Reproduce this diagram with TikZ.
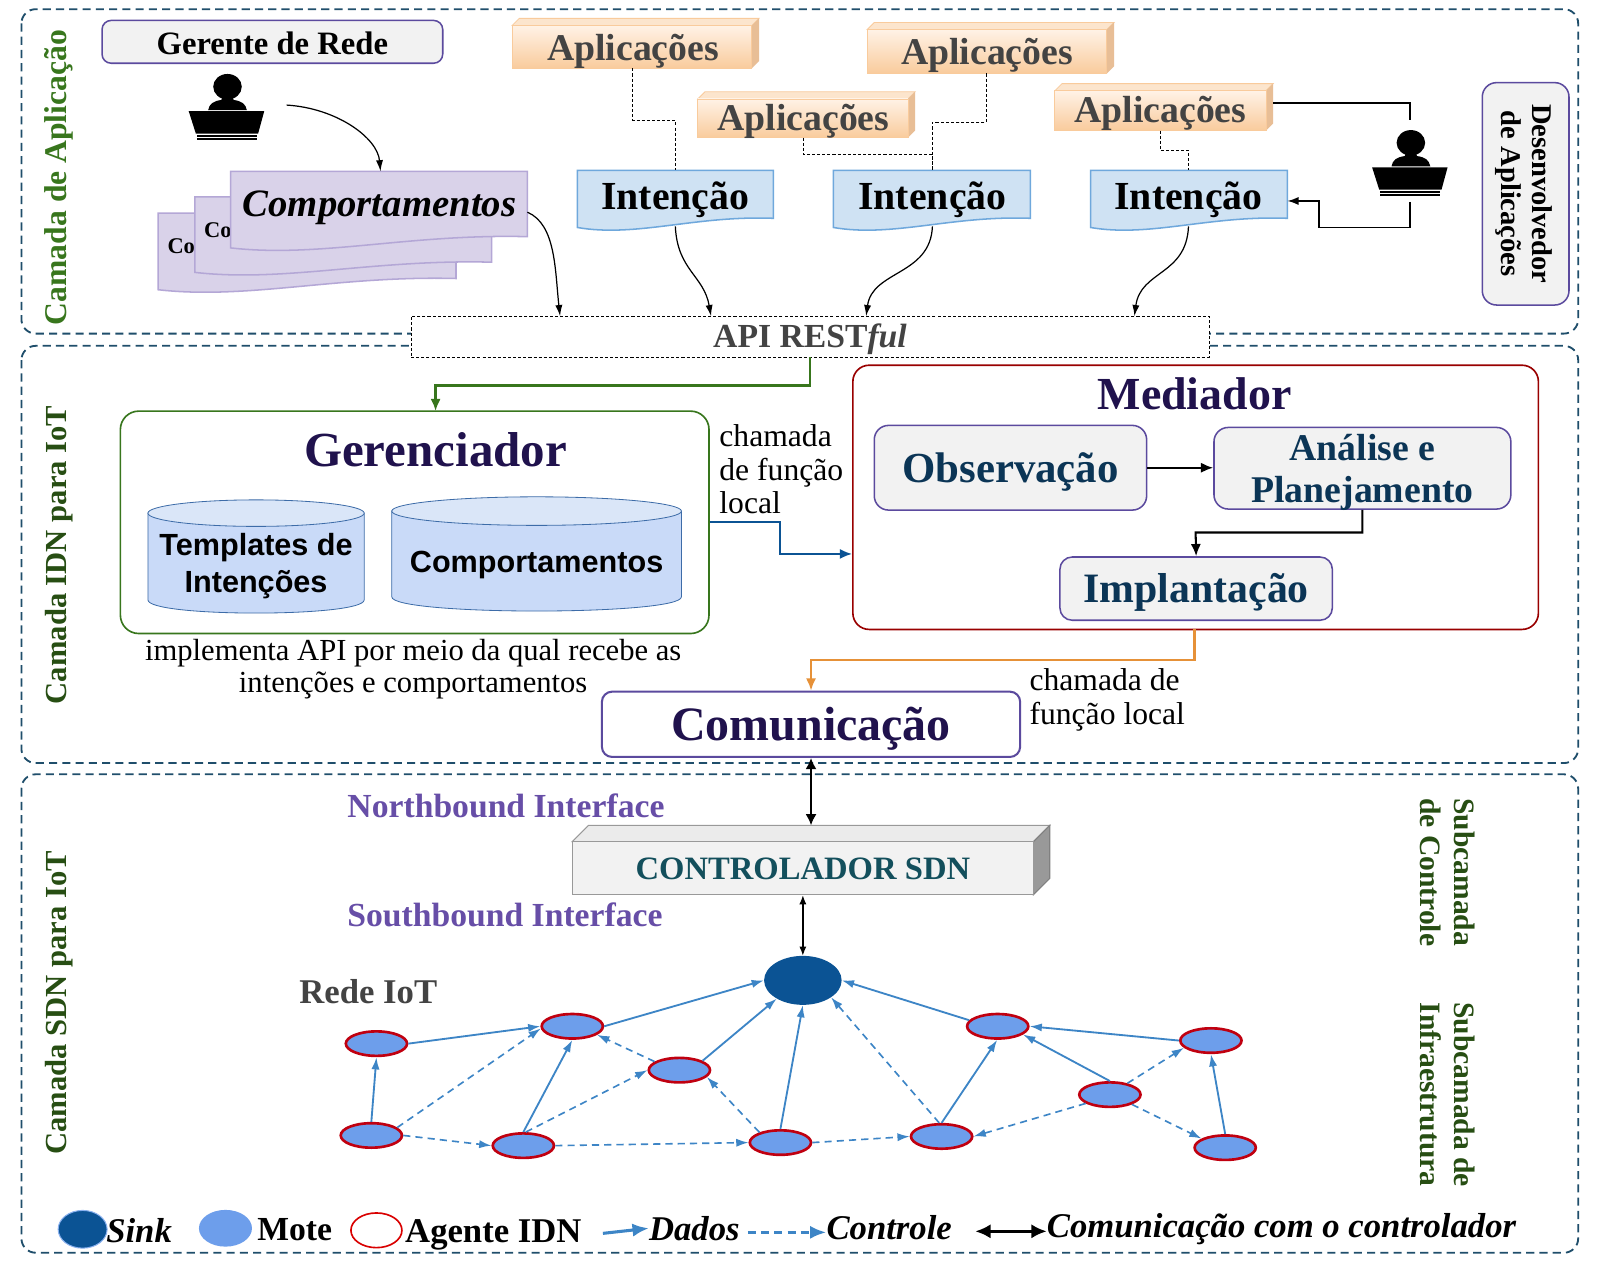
\documentclass[tikz,border=0pt]{standalone}
\usepackage{fontspec}
\usetikzlibrary{shapes.geometric,arrows.meta,calc}
\setmainfont{Liberation Serif}
\newfontfamily\sansf{Liberation Sans}
\newcommand{\fz}[1]{\fontsize{#1pt}{#1pt}\selectfont}
\newcommand{\fzl}[2]{\fontsize{#1pt}{#2pt}\selectfont}
\definecolor{framec}{HTML}{1F4E6B}
\definecolor{purp}{HTML}{5B4A9E}
\definecolor{navy}{HTML}{20124D}
\definecolor{deep}{HTML}{0B3556}
\definecolor{gr1}{HTML}{38761D}
\definecolor{gr2}{HTML}{274E13}
\definecolor{netb}{HTML}{3D85C6}
\definecolor{sinkc}{HTML}{0B5394}
\definecolor{motec}{HTML}{6D9EEB}
\definecolor{agentc}{HTML}{C00010}
\definecolor{grayt}{HTML}{434343}
\definecolor{tealt}{HTML}{134F5C}
\definecolor{orangel}{HTML}{E69138}
\definecolor{intf}{HTML}{674EA7}
\tikzset{
  framebox/.style={draw=framec,line width=1.8pt,dash pattern=on 8pt off 5pt,rounded corners=14pt},
  greybox/.style={draw=purp,fill=black!5,line width=1.5pt,rounded corners=9pt},
  person/.pic={
    \fill[black] (0,0) ellipse[x radius=14pt,y radius=12.5pt];
    \fill[black] (-5,10) -- (5,10) -- (6,13) .. controls (14,14) and (18,17) .. (19,23) -- (-19,23) .. controls (-18,17) and (-14,14) .. (-6,13) -- cycle;
    \fill[black] (-38,24) -- (36,24) -- (30,46) -- (-31,46) -- cycle;
    \fill[black] (-30,47.5) rectangle (29,49);
    \fill[black] (-30,50.5) rectangle (29,52);
  },
  arrowthin/.style={black,line width=1.2pt,-{Latex[length=11pt,width=7pt]}},
  arrowbig/.style={line width=2.5pt,-{Latex[length=12pt,width=10pt]}},
  dashlink/.style={black,line width=.7pt,dash pattern=on 3pt off 2pt},
  mote/.style={ellipse,draw=agentc,fill=motec,line width=2.6pt,minimum width=60pt,minimum height=24pt,inner sep=0pt},
  data/.style={netb,line width=1.8pt,-{Latex[length=12pt,width=8pt]}},
  ctrl/.style={netb,line width=1.6pt,dash pattern=on 7pt off 5pt,-{Latex[length=12pt,width=8pt]}},
  lab/.style={inner sep=0pt,font=\bfseries},
}
% args: x0 ytop x1 yright yleft fill draw
\newcommand{\docshape}[7]{%
  \pgfmathsetmacro{\cA}{#1+0.3*(#3-#1)}\pgfmathsetmacro{\cB}{#1+0.6*(#3-#1)}%
  \pgfmathsetmacro{\cC}{#5+10}\pgfmathsetmacro{\cD}{#4-3}%
  \draw[fill=#6,draw=#7,line width=1.5pt] (#1,#2) -- (#3,#2) -- (#3,#4) .. controls (\cB,\cD) and (\cA,\cC) .. (#1,#5) -- cycle;}
% args: x0 ytop x1 ybottom name
\newcommand{\appbox}[5]{%
  \fill[FCE5CD,draw=F9CB9C,line width=.8pt] (#1,#2+7) -- (#1+7,#2) -- (#3,#2) -- (#3-7,#2+7) -- cycle;
  \fill[E8BE96] (#3-7,#2+7) -- (#3,#2) -- (#3,#4-7) -- (#3-7,#4) -- cycle;
  \shade[top color=FFF2E6,bottom color=F9CB9C] (#1,#2+7) rectangle (#3-7,#4);
  \draw[F9CB9C,line width=.8pt] (#1,#2+7) rectangle (#3-7,#4);
  \node[inner sep=0pt,minimum width=#3pt-#1pt-7pt,minimum height=#4pt-#2pt-7pt] (#5) at ({(#1+#3-7)/2},{(#2+7+#4)/2}) {};}
% args: x0 x1 ytopcentre ybottom ry
\newcommand{\cyl}[5]{%
  \draw[fill=C9DAF8,draw=3D6CA8,line width=.8pt] (#1,#3) -- (#1,#4) .. controls (#1,#4+1.33*#5) and (#2,#4+1.33*#5) .. (#2,#4) -- (#2,#3) -- cycle;
  \draw[fill=DAE6F8,draw=3D6CA8,line width=.8pt] ({(#1+#2)/2},#3) ellipse[x radius={(#2-#1)/2*1pt},y radius=#5pt];}
\xdefinecolor{FCE5CD}{HTML}{FCE5CD}\xdefinecolor{F9CB9C}{HTML}{F9CB9C}\xdefinecolor{E8BE96}{HTML}{E8BE96}
\xdefinecolor{FFF2E6}{HTML}{FFF2E6}\xdefinecolor{C9DAF8}{HTML}{C9DAF8}\xdefinecolor{DAE6F8}{HTML}{DAE6F8}\xdefinecolor{3D6CA8}{HTML}{3D6CA8}
\xdefinecolor{purpfill}{HTML}{D9D2E9}\xdefinecolor{purpline}{HTML}{B4A7D6}\xdefinecolor{bluefill}{HTML}{CFE2F3}\xdefinecolor{blueline}{HTML}{6FA8DC}
\begin{document}
\begin{tikzpicture}[x=1pt,y=-1pt]
\useasboundingbox (0,0) rectangle (1568.4,1241);
\fill[white] (0,0) rectangle (1568.4,1241);
% frames
\draw[framebox] (21,9) rectangle (1547,327);
\draw[framebox] (21,339) rectangle (1547,748);
\draw[framebox] (21,759) rectangle (1547,1228);
% layer labels
\node[lab,rotate=90,text=gr1] (l1) at (58,174) {\fz{31}Camada de Aplicação};
\node[lab,rotate=90,text=gr2] (l2) at (58,544) {\fz{30}Camada IDN para IoT};
\node[lab,rotate=90,text=gr2] (l3) at (58,983) {\fz{30}Camada SDN para IoT};
% Gerente
\node[greybox,minimum width=334pt,minimum height=42pt,inner sep=0pt] (ger) at (267,41) {};
\node[lab] (gert) at (267,42) {\fz{32}Gerente de Rede};
\pic at (223,85) {person};
\coordinate (p1) at (281,103);
% Comportamentos stack
\docshape{155}{209}{447}{273}{284}{purpfill}{purpline}
\node[lab,anchor=west] (c3) at (164,241) {\fz{22}Co};
\docshape{191}{193}{482}{257}{267}{purpfill}{purpline}
\node[lab,anchor=west] (c2) at (200,226) {\fz{22}Co};
\docshape{226}{168}{517}{232}{243}{purpfill}{purpline}
\node[lab] (comp) at (372,204) {\bfseries\itshape\fz{38}Comportamentos};
\coordinate (compt) at (373,168);
\coordinate (compr) at (517,208);
\draw[arrowthin] (p1) .. controls (330,106) and (370,135) .. (compt);
% Aplicacoes
\appbox{502}{18}{744}{67}{a1}
\appbox{850}{22}{1092}{72}{a2}
\appbox{684}{90}{897}{135}{a3}
\appbox{1034}{82}{1248}{128}{a4}
\node[lab,text=grayt] (t1) at (620.5,50) {\fz{37}Aplicações};
\node[lab,text=grayt] (t2) at (967.5,54) {\fz{37}Aplicações};
\node[lab,text=grayt] (t3) at (787.5,119) {\fz{37}Aplicações};
\node[lab,text=grayt] (t4) at (1137.5,111) {\fz{37}Aplicações};
% Intencao
\docshape{566}{167}{758}{214}{223}{bluefill}{blueline}
\docshape{817}{167}{1010}{214}{223}{bluefill}{blueline}
\docshape{1069}{167}{1262}{214}{223}{bluefill}{blueline}
\node[lab] (i1) at (662,195.5) {\fz{39}Intenção};
\node[lab] (i2) at (914,195.5) {\fz{39}Intenção};
\node[lab] (i3) at (1165,195.5) {\fz{39}Intenção};
\coordinate (a1b) at (620,67); \coordinate (a2b) at (967,72); \coordinate (a3b) at (787,135); \coordinate (a4b) at (1137,128);
\coordinate (i1t) at (662,167); \coordinate (i2t) at (914,167); \coordinate (i3t) at (1165,167);
\coordinate (i1b) at (662,222); \coordinate (i2b) at (914,222); \coordinate (i3b) at (1165,222);
\draw[dashlink] (a1b) |- (641,118) -| (i1t);
\draw[dashlink] (a2b) |- (940,120) -| (i2t);
\draw[dashlink] (a3b) |- (850,151) -| (i2t);
\draw[dashlink] (a4b) |- (1150,147) -| (i3t);
% person 2
\begin{scope}[shift={(1383,140)},scale=.94]
\pic at (0,0) {person};
\end{scope}
\coordinate (a4r) at (1248,101); \coordinate (d1) at (1382,118); \coordinate (d2) at (1382,198); \coordinate (i3r) at (1262,197);
\draw[black,line width=1.5pt] (a4r) -| (d1);
\draw[black,line width=1.5pt,-{Latex[length=11pt,width=8pt]}] (d2) |- (1293,223) |- (i3r);
% Desenvolvedor
\node[greybox,rounded corners=14pt,minimum width=85pt,minimum height=218pt,inner sep=0pt] (dev) at (1495.5,190) {};
\node[lab,rotate=-90,align=center,font={\bfseries\fzl{28}{30}}] (devt) at (1494,190) {Desenvolvedor\\de Aplicações};
% API
\node[draw=black,fill=white,line width=.7pt,dash pattern=on 3pt off 2pt,minimum width=782pt,minimum height=40pt,inner sep=0pt] (api) at (794,330) {};
\node[lab] (apit) at (794,333) {\color{grayt}\bfseries\fz{33}API REST\textit{ful}};
\coordinate (ap1) at (549,310); \coordinate (ap2) at (697,310); \coordinate (ap3) at (849,310); \coordinate (ap4) at (1112,310);
\draw[arrowthin] (compr) .. controls (545,220) and (544,265) .. (ap1);
\draw[arrowthin] (i1b) .. controls (664,265) and (690,270) .. (ap2);
\draw[arrowthin] (i2b) .. controls (912,270) and (855,265) .. (ap3);
\draw[arrowthin] (i3b) .. controls (1163,270) and (1118,265) .. (ap4);
% Gerenciador
\node[draw=gr1,rounded corners=18pt,line width=1.6pt,minimum width=577pt,minimum height=218pt,inner sep=0pt] (gere) at (406.5,512) {};
\node[lab,text=navy] (geret) at (427,441) {\fz{48}Gerenciador};
\coordinate (geretop) at (427,403);
\draw[gr1,arrowbig] (api.south) |- (427,378) -- (geretop);
\cyl{145}{357}{503}{588}{13}
\cyl{384}{668}{501}{585}{14}
\node[inner sep=0pt,align=center,font={\sansf\bfseries\fzl{30}{36}}] (tpl) at (251,555) {Templates de\\Intenções};
\node[inner sep=0pt,font={\sansf\bfseries\fz{30}}] (cmp) at (526,553.5) {Comportamentos};
\node[inner sep=0pt,anchor=north west,align=left,font=\fzl{31}{33}] (ch1) at (705,416) {chamada\\de função\\local};
\node[inner sep=0pt,align=center,font=\fzl{30}{31}] (impl) at (405,656) {implementa API por meio da qual recebe as\\intenções e comportamentos};
% Mediador
\node[draw=red!60!black,rounded corners=16pt,line width=1.6pt,minimum width=672pt,minimum height=259pt,inner sep=0pt] (med) at (1172,487.5) {};
\node[lab,text=navy] (medt) at (1171,386) {\fz{45}Mediador};
\node[greybox,rounded corners=14pt,minimum width=267pt,minimum height=83pt,inner sep=0pt] (obs) at (990.5,458.5) {};
\node[lab,text=deep] (obst) at (990.5,463) {\fz{42}Observação};
\node[greybox,rounded corners=14pt,minimum width=291pt,minimum height=80pt,inner sep=0pt] (ana) at (1335.5,459) {};
\node[lab,text=deep,align=center,font={\bfseries\fzl{37}{41}}] (anat) at (1335.5,463) {Análise e\\Planejamento};
\node[greybox,rounded corners=12pt,minimum width=267pt,minimum height=62pt,inner sep=0pt] (imp) at (1172.5,577) {};
\node[lab,text=deep] (impt) at (1172.5,581) {\fz{41}Implantação};
\draw[black,arrowbig,line width=2pt] (obs.east) -- (ana.west |- obs.east);
\draw[black,arrowbig,line width=2pt] (ana.south) |- (1172,522) -- (imp.north);
\draw[sinkc,arrowbig,line width=2pt] (gere.east) -| (765,543) -- (med.west |- 0,543);
% Comunicacao
\node[draw=purp,rounded corners=10pt,line width=2pt,minimum width=410pt,minimum height=64pt,inner sep=0pt] (com) at (795,710) {};
\node[lab,text=navy] (comt) at (795,714.5) {\fz{47}Comunicação};
\coordinate (medb) at (1171,617);
\draw[orangel,arrowbig] (medb) |- (795,647) -- (com.north);
\node[inner sep=0pt,anchor=north west,align=left,font=\fzl{31}{33}] (ch2) at (1009,655) {chamada de\\função local};
% SDN
\node[lab,text=intf] (nb) at (496,790) {\fz{33}Northbound Interface};
\node[lab,text=intf] (sb) at (495,897) {\fz{33}Southbound Interface};
\fill[black!8,draw=black!40,line width=1pt] (561,825) -- (577,809) -- (1029,809) -- (1013,825) -- cycle;
\fill[black!40,draw=black!50,line width=1pt] (1013,825) -- (1029,809) -- (1029,861) -- (1013,877) -- cycle;
\node[fill=black!5,draw=black!40,line width=1pt,minimum width=452pt,minimum height=52pt,inner sep=0pt] (ctl) at (787,851) {};
\node[lab,text=tealt] (ctlt) at (787,852) {\fz{32}CONTROLADOR SDN};
\coordinate (ctt) at (795,809);
\draw[black,line width=2.8pt,{Latex[length=11pt,width=11pt]}-{Latex[length=11pt,width=11pt]}] (com.south) -- (ctt);
\node[ellipse,fill=sinkc,minimum width=76pt,minimum height=48pt,inner sep=0pt] (sink) at (787,961) {};
\draw[black,line width=1.3pt,{Latex[length=9pt,width=7pt]}-{Latex[length=9pt,width=7pt]}] (ctl.south) -- (sink.north);
\node[lab,text=grayt] (rede) at (361,972) {\fz{34}Rede IoT};
\node[lab,rotate=-90,text=gr2,align=center,font={\bfseries\fzl{29}{33}}] (sc1) at (1419,855) {Subcamada\\de Controle};
\node[lab,rotate=-90,text=gr2,align=center,font={\bfseries\fzl{29}{33}}] (sc2) at (1419,1073) {Subcamada de\\Infraestrutura};
% network
\node[mote] (m1) at (369,1023) {};
\node[mote] (m2) at (561,1006) {};
\node[mote] (m3) at (666,1049) {};
\node[mote] (m4) at (978,1006) {};
\node[mote] (m5) at (1187,1020) {};
\node[mote] (m6) at (1088,1073) {};
\node[mote] (m7) at (364,1113) {};
\node[mote] (m8) at (513,1123) {};
\node[mote] (m9) at (765,1120) {};
\node[mote] (m10) at (923,1114) {};
\node[mote] (m11) at (1201,1125) {};
\foreach \a/\b in {m7.90/m1.270,m1.0/m2.180,m2.0/sink.180,m8.90/m2.270,m3.22/sink.215,m9.90/sink.270,m4.168/sink.0,m10.90/m4.268,m6.90/m4.-18,m5.180/m4.0,m11.90/m5.270}
  \draw[data] (\a) -- (\b);
\foreach \a/\b in {m7.17/m2.184,m7.0/m8.180,m8.80/m3.180,m8.0/m9.180,m3.161/m2.-19,m9.154/m3.-14,m9.0/m10.180,m10.100/sink.-31,m6.200/m10.0,m6.33/m5.195,m6.-24/m11.159}
  \draw[ctrl] (\a) -- (\b);
% legend
\node[ellipse,fill=sinkc,draw=motec!80!white,line width=1pt,minimum width=48pt,minimum height=37pt,inner sep=0pt] (ls) at (81,1205) {};
\node[lab,anchor=west] (lst) at (104,1206) {\itshape\fz{34}Sink};
\node[ellipse,fill=motec,minimum width=52pt,minimum height=36pt,inner sep=0pt] (lm) at (221,1204) {};
\node[lab,anchor=west] (lmt) at (252,1205) {\fz{33}Mote};
\node[ellipse,fill=white,draw=red!85!black,line width=1.6pt,minimum width=50pt,minimum height=34pt,inner sep=0pt] (la) at (369,1206) {};
\node[lab,anchor=west] (lat) at (397,1210) {\fz{34}Agente IDN};
\node[lab,anchor=west] (ldt) at (636,1204) {\itshape\fz{34}Dados};
\coordinate (ld0) at (591,1209);
\draw[netb,line width=3pt,-{Latex[length=16pt,width=13pt]}] (ld0) -- (ldt.west);
\node[lab,anchor=west] (lct) at (810,1203) {\itshape\fz{34}Controle};
\coordinate (lc0) at (733,1208);
\draw[netb,line width=3.5pt,dash pattern=on 8pt off 5pt,-{Latex[length=16pt,width=13pt]}] (lc0) -- (lct.west |- lc0);
\node[lab,anchor=west] (lot) at (1026,1205) {\itshape\fz{34}Comunicação com o controlador};
\coordinate (lo0) at (956,1207);
\draw[black,line width=2.8pt,{Latex[length=15pt,width=14pt]}-{Latex[length=15pt,width=14pt]}] (lo0) -- (lot.west |- lo0);
\end{tikzpicture}
\end{document}
